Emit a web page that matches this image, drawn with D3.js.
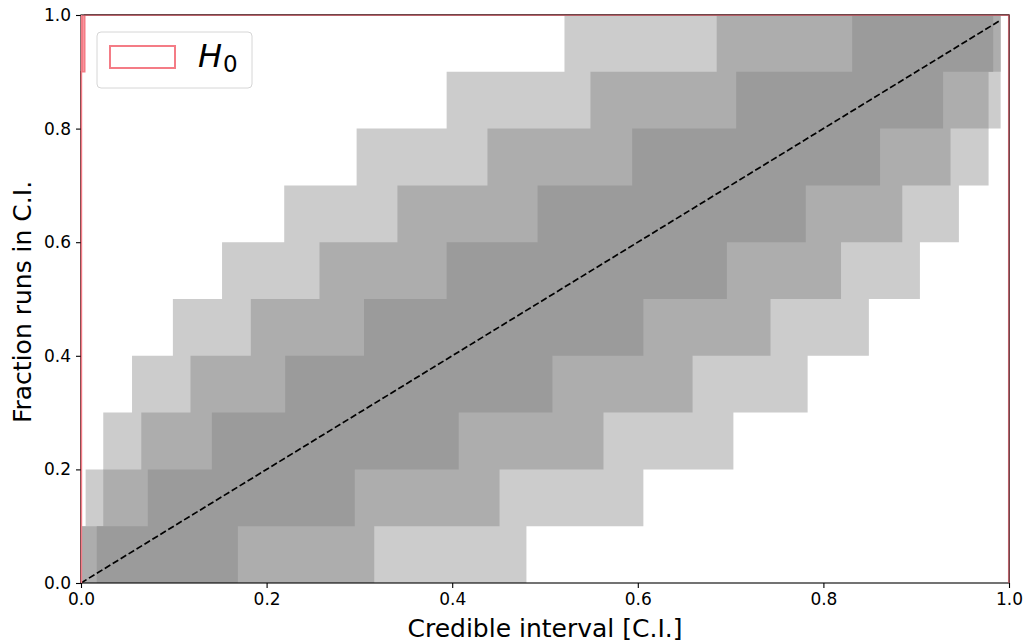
<!DOCTYPE html>
<html>
<head>
<meta charset="utf-8">
<script src="https://cdn.jsdelivr.net/npm/d3@7"></script>
<style>
  body { margin: 0; background: #ffffff; }
  svg { font-family: "DejaVu Sans", sans-serif; }
</style>
</head>
<body>
<div id="chart"></div>
<script>
// Y levels of the steps (fraction of runs)
const rowLevels = [0.0, 0.1, 0.2, 0.3, 0.4, 0.5, 0.6, 0.7, 0.8, 0.9, 1.0];

// x extents of each band on each row (row k spans rowLevels[k]..rowLevels[k+1])
const lightLeft  = [0.000, 0.005, 0.024, 0.055, 0.099, 0.152, 0.219, 0.297, 0.394, 0.521];
const lightRight = [0.480, 0.606, 0.703, 0.783, 0.849, 0.904, 0.946, 0.978, 0.991, 0.991];
const midLeft    = [0.000, 0.024, 0.065, 0.118, 0.183, 0.257, 0.341, 0.438, 0.549, 0.685];
const midRight   = [0.316, 0.451, 0.563, 0.659, 0.743, 0.819, 0.885, 0.937, 0.978, 0.991];
const darkLeft   = [0.017, 0.072, 0.141, 0.220, 0.305, 0.394, 0.492, 0.594, 0.706, 0.831];
const darkRight  = [0.169, 0.295, 0.407, 0.508, 0.606, 0.696, 0.781, 0.861, 0.929, 0.983];

// diagonal reference line
const diagX = [0, 0.99];

// H0 curve outline
const h0X = [0, 0, 0.004, 0.004, 1, 1];
const h0Y = [0, 0.9, 0.9, 1, 1, 0];

const xTicks = [0.0, 0.2, 0.4, 0.6, 0.8, 1.0];
const yTicks = [0.0, 0.2, 0.4, 0.6, 0.8, 1.0];

const W = 1030, H = 644;
const margin = { top: 15, right: 21, bottom: 61, left: 81 };
const width  = W - margin.left - margin.right;
const height = H - margin.top - margin.bottom;

const svg = d3.select("#chart").append("svg")
    .attr("width", W)
    .attr("height", H);

const g = svg.append("g")
    .attr("transform", `translate(${margin.left},${margin.top})`);

const x = d3.scaleLinear().domain([0, 1]).range([0, width]);
const y = d3.scaleLinear().domain([0, 1]).range([height, 0]);

// step outline of one band: up the right edges, down the left edges
function bandPoints(left, right) {
    const pts = [];
    for (let k = 0; k < right.length; k++) {
        pts.push([right[k], rowLevels[k]]);
        pts.push([right[k], rowLevels[k + 1]]);
    }
    for (let k = left.length - 1; k >= 0; k--) {
        pts.push([left[k], rowLevels[k + 1]]);
        pts.push([left[k], rowLevels[k]]);
    }
    return pts;
}

const line = d3.line().x(d => x(d[0])).y(d => y(d[1]));

const bands = [
    { left: lightLeft, right: lightRight, color: "#cccccc" },
    { left: midLeft,   right: midRight,   color: "#adadad" },
    { left: darkLeft,  right: darkRight,  color: "#9b9b9b" }
];

g.selectAll(".band")
    .data(bands)
    .enter()
    .append("path")
    .attr("class", "band")
    .attr("d", d => line(bandPoints(d.left, d.right)) + "Z")
    .attr("fill", d => d.color);

// H0
const h0Color = "#f47c86";
g.append("path")
    .attr("d", line(h0X.map((v, i) => [v, h0Y[i]])))
    .attr("fill", "none")
    .attr("stroke", h0Color)
    .attr("stroke-width", 1.6);
g.append("rect")
    .attr("x", x(0))
    .attr("y", y(1))
    .attr("width", x(0.003) - x(0))
    .attr("height", y(0.9) - y(1))
    .attr("fill", h0Color);

// diagonal
g.append("path")
    .attr("d", line(diagX.map(v => [v, v])))
    .attr("fill", "none")
    .attr("stroke", "#000")
    .attr("stroke-width", 1.7)
    .attr("stroke-dasharray", "6.5,2.8");

// axes
const xAxis = g.append("g")
    .attr("transform", `translate(0,${height})`)
    .call(d3.axisBottom(x).tickValues(xTicks).tickFormat(d3.format(".1f")).tickSize(5).tickPadding(5));
const yAxis = g.append("g")
    .call(d3.axisLeft(y).tickValues(yTicks).tickFormat(d3.format(".1f")).tickSize(5).tickPadding(5));

[xAxis, yAxis].forEach(a => {
    a.select(".domain").remove();
    a.selectAll("text").style("font-size", "17px").style("fill", "#000").style("font-family", "DejaVu Sans");
    a.selectAll("line").attr("stroke", "#000").attr("stroke-width", 1.1);
});

// spines
g.append("rect")
    .attr("x", 0).attr("y", 0)
    .attr("width", width).attr("height", height)
    .attr("fill", "none")
    .attr("stroke", "#000")
    .attr("stroke-width", 1.1);
// red H0 over top/right spine (blend)
g.append("path")
    .attr("d", `M0,0.5H${width - 0.5}V${height}`)
    .attr("fill", "none")
    .attr("stroke", h0Color)
    .attr("stroke-opacity", 0.55)
    .attr("stroke-width", 1.2);
g.append("line")
    .attr("x1", 0.5).attr("x2", 0.5).attr("y1", 0).attr("y2", height)
    .attr("stroke", h0Color).attr("stroke-width", 1.4);

// axis labels
svg.append("text")
    .attr("x", margin.left + width / 2)
    .attr("y", 637)
    .attr("text-anchor", "middle")
    .style("font-size", "25px")
    .text("Credible interval [C.I.]");

svg.append("text")
    .attr("transform", `translate(31,${margin.top + height / 2 + 3}) rotate(-90)`)
    .attr("text-anchor", "middle")
    .style("font-size", "25px")
    .text("Fraction runs in C.I.");

// legend
const legend = svg.append("g");
legend.append("rect")
    .attr("x", 97).attr("y", 32)
    .attr("width", 155).attr("height", 56)
    .attr("rx", 4)
    .attr("fill", "#fff")
    .attr("fill-opacity", 0.8)
    .attr("stroke", "#d6d6d6")
    .attr("stroke-width", 1);
legend.append("rect")
    .attr("x", 110).attr("y", 46)
    .attr("width", 65).attr("height", 22)
    .attr("fill", "none")
    .attr("stroke", h0Color)
    .attr("stroke-width", 2);
const lt = legend.append("text")
    .attr("x", 198).attr("y", 67)
    .style("font-size", "32px")
    .style("font-style", "italic");
lt.append("tspan").text("H");
lt.append("tspan")
    .attr("dy", 5)
    .attr("dx", 1)
    .style("font-style", "normal")
    .style("font-size", "23px")
    .text("0");
</script>
</body>
</html>
